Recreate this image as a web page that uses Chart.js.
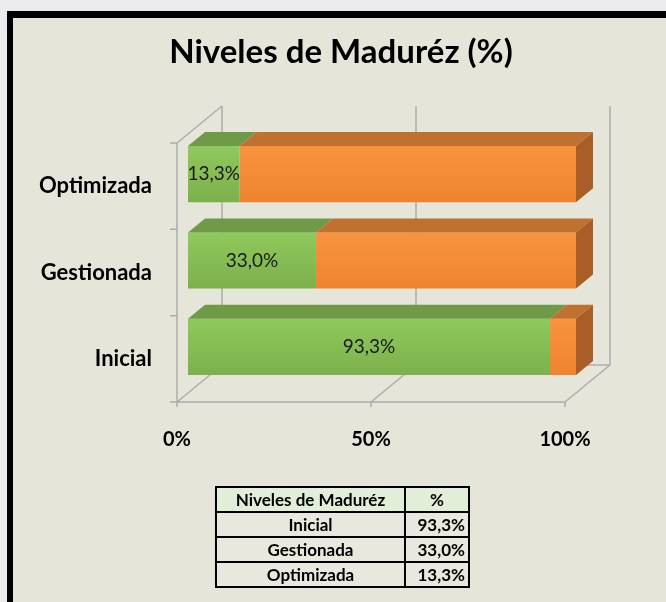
<!DOCTYPE html>
<html>
<head>
<meta charset="utf-8">
<title>Niveles de Maduréz</title>
<script src="https://cdn.jsdelivr.net/npm/chart.js@4/dist/chart.umd.min.js"></script>
<style>
  body { margin: 0; background: #ebebed; width: 666px; height: 602px; overflow: hidden; font-family: Lato, sans-serif; }
  #frame { position: absolute; left: 7px; top: 11px; width: 700px; height: 640px; background: #e6e5da; border-left: 6px solid #000; border-top: 7px solid #000; }
  #chart { position: absolute; left: 0; top: 0; }
  table { position: absolute; left: 215px; top: 486px; border-collapse: collapse; font: bold 17px Lato, sans-serif; color: #000; }
  td { border: 2px solid #000; height: 23px; padding: 0 3px; text-align: center; background: #e9e8df; }
  td.num { text-align: right; width: 56px; }
  tr.head td { background: #e2eed8; }
  td.name { width: 181px; }
</style>
</head>
<body>
<div id="frame"></div>
<canvas id="chart" width="666" height="602"></canvas>
<table id="tabla"></table>

<script>
document.addEventListener('DOMContentLoaded', function() {
    const titulo = 'Niveles de Maduréz (%)';
    const categories = ['Inicial', 'Gestionada', 'Optimizada'];
    const alcanzado = [93.3, 33.0, 13.3];
    const restante = [6.7, 67.0, 86.7];
    const xTicks = [0, 50, 100];

    const fmt = v => v.toFixed(1).replace('.', ',') + '%';

    // table under the chart
    const tabla = document.getElementById('tabla');
    let head = tabla.insertRow();
    head.className = 'head';
    head.insertCell(0).innerHTML = 'Niveles de Maduréz';
    head.cells[0].className = 'name';
    head.insertCell(1).innerHTML = '%';
    categories.forEach((cat, i) => {
        let row = tabla.insertRow();
        row.insertCell(0).innerHTML = cat;
        let c = row.insertCell(1);
        c.innerHTML = fmt(alcanzado[i]);
        c.className = 'num';
    });

    // 3D look: bars sit slightly behind the front plane
    const SHIFT_X = 11, SHIFT_Y = -12;
    const BAR_DX = 17, BAR_DY = -14;
    const WALL_DX = 45, WALL_DY = -37;
    const BAR_PCT = 0.65;
    const topColors = ['#6f9a47', '#c0702f'];
    const sideColor = '#a95e27';

    // light-to-dark vertical shading of each bar's front face
    function shade(light, dark) {
        return function(c) {
            const chart = c.chart;
            const a = chart.chartArea;
            const ys = chart.scales && chart.scales.y;
            if (!a || !ys || c.dataIndex === undefined) return light;
            const cy = ys.getPixelForValue(c.dataIndex);
            const h = (a.bottom - a.top) / categories.length * BAR_PCT;
            if (!isFinite(cy) || !isFinite(h)) return light;
            const g = chart.ctx.createLinearGradient(0, cy - h / 2, 0, cy + h / 2);
            g.addColorStop(0, light);
            g.addColorStop(1, dark);
            return g;
        };
    }

    const fake3d = {
        id: 'fake3d',
        beforeDatasetsDraw(chart) {
            const ctx = chart.ctx;
            const a = chart.chartArea;
            const xs = chart.scales.x;
            ctx.save();
            ctx.strokeStyle = '#acacac';
            ctx.lineWidth = 1.5;
            ctx.beginPath();
            // left wall
            ctx.moveTo(a.left, a.bottom); ctx.lineTo(a.left, a.top);
            ctx.lineTo(a.left + WALL_DX, a.top + WALL_DY);
            // floor front edge
            ctx.moveTo(a.left, a.bottom); ctx.lineTo(a.right, a.bottom);
            xTicks.forEach(v => {
                const px = xs.getPixelForValue(v);
                // floor diagonal and back gridline
                ctx.moveTo(px, a.bottom);
                ctx.lineTo(px + WALL_DX, a.bottom + WALL_DY);
                ctx.lineTo(px + WALL_DX, a.top + WALL_DY);
                // tick below the floor
                ctx.moveTo(px, a.bottom);
                ctx.lineTo(px, a.bottom + 5);
            });
            ctx.moveTo(a.left + WALL_DX, a.bottom + WALL_DY);
            ctx.lineTo(a.right + WALL_DX, a.bottom + WALL_DY);
            // category ticks on the wall
            const n = categories.length;
            const step = (a.bottom - a.top) / n;
            for (let i = 0; i <= n; i++) {
                const py = a.top + i * step;
                ctx.moveTo(a.left - 7, py); ctx.lineTo(a.left, py);
            }
            ctx.stroke();
            ctx.restore();

            ctx.save();
            ctx.translate(SHIFT_X, SHIFT_Y);
        },
        afterDatasetsDraw(chart) {
            const ctx = chart.ctx;
            const last = chart.data.datasets.length - 1;
            chart.data.datasets.forEach((ds, di) => {
                chart.getDatasetMeta(di).data.forEach(el => {
                    const p = el.getProps(['x', 'y', 'base', 'height'], true);
                    const l = Math.min(p.x, p.base), r = Math.max(p.x, p.base);
                    const t = p.y - p.height / 2, b = p.y + p.height / 2;
                    ctx.fillStyle = topColors[di];
                    ctx.beginPath();
                    ctx.moveTo(l, t); ctx.lineTo(r, t);
                    ctx.lineTo(r + BAR_DX, t + BAR_DY); ctx.lineTo(l + BAR_DX, t + BAR_DY);
                    ctx.closePath();
                    ctx.fill();
                    if (di === last) {
                        ctx.fillStyle = sideColor;
                        ctx.beginPath();
                        ctx.moveTo(r, t); ctx.lineTo(r + BAR_DX, t + BAR_DY);
                        ctx.lineTo(r + BAR_DX, b + BAR_DY); ctx.lineTo(r, b);
                        ctx.closePath();
                        ctx.fill();
                    }
                });
            });
            // value labels on the green part
            ctx.fillStyle = '#1a1a1a';
            ctx.font = '19px Lato';
            ctx.textAlign = 'center';
            ctx.textBaseline = 'middle';
            chart.getDatasetMeta(0).data.forEach((el, i) => {
                const p = el.getProps(['x', 'y', 'base'], true);
                ctx.fillText(fmt(alcanzado[i]), (p.x + p.base) / 2, p.y);
            });
            ctx.restore();
        },
        afterDraw(chart) {
            // title sits a bit right of the canvas centre, like the original
            const ctx = chart.ctx;
            ctx.save();
            ctx.fillStyle = '#000';
            ctx.font = 'bold 33px Lato';
            ctx.textAlign = 'center';
            ctx.textBaseline = 'middle';
            ctx.fillText(titulo, 341, 52);
            ctx.restore();
        }
    };

    const ctx = document.getElementById('chart').getContext('2d');
    new Chart(ctx, {
        type: 'bar',
        data: {
            labels: categories,
            datasets: [{
                label: 'Alcanzado',
                data: alcanzado,
                backgroundColor: shade('#8fc95c', '#7db04c'),
                barPercentage: BAR_PCT,
                categoryPercentage: 1
            }, {
                label: 'Restante',
                data: restante,
                backgroundColor: shade('#f8933e', '#ef8430'),
                barPercentage: BAR_PCT,
                categoryPercentage: 1
            }]
        },
        options: {
            indexAxis: 'y',
            responsive: false,
            animation: false,
            layout: { padding: { left: 0, right: 101, top: 143, bottom: 0 } },
            plugins: {
                legend: { display: false },
                tooltip: { enabled: false },
                title: { display: false }
            },
            scales: {
                x: {
                    stacked: true,
                    min: 0,
                    max: 100,
                    afterBuildTicks: s => { s.ticks = xTicks.map(v => ({ value: v })); },
                    afterFit: s => { s.height = 200; },
                    grid: { display: false },
                    border: { display: false },
                    ticks: {
                        padding: 18,
                        color: '#000',
                        font: { family: 'Lato', size: 20, weight: 'bold' },
                        callback: v => v + '%'
                    }
                },
                y: {
                    stacked: true,
                    reverse: true,
                    afterFit: s => { s.width = 177; },
                    grid: { display: false },
                    border: { display: false },
                    ticks: {
                        padding: 17,
                        color: '#000',
                        font: { family: 'Lato', size: 22, weight: 'bold' }
                    }
                }
            }
        },
        plugins: [fake3d]
    });
});
</script>
</body>
</html>
